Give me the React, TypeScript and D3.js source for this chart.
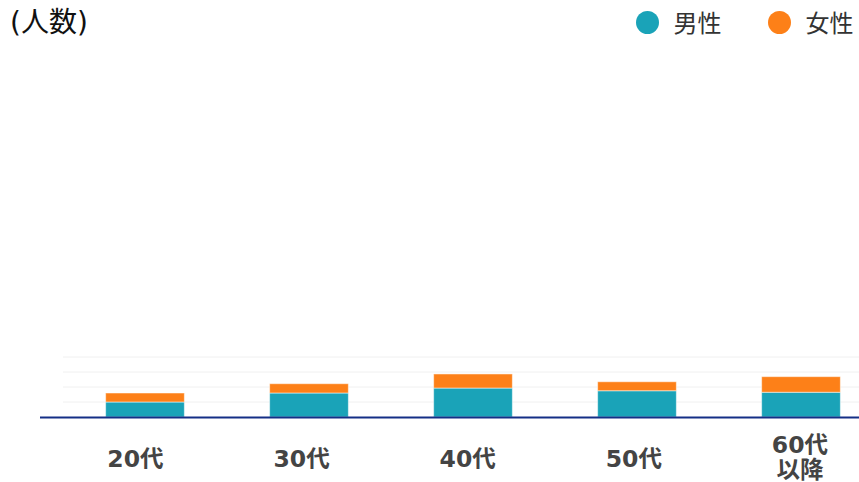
import { useEffect, useRef } from "react";
import { select, scaleBand, scaleLinear, stack } from "d3";

const categories = ["20代", "30代", "40代", "50代", "60代\n以降"];
const male = [10, 16, 19.3, 17.5, 16.5];
const female = [6, 6.2, 9.4, 6, 10.4];
const gridTicks = [10, 20, 30, 40];
const seriesNames = ["男性", "女性"];
const colors = ["#1aa3b8", "#fd8018"];

const W = 859;
const H = 482;
const FONT = "'DejaVu Sans', 'Noto Sans CJK JP', sans-serif";

const App: React.FC = () => {
  const svgRef = useRef<SVGSVGElement>(null);

  useEffect(() => {
    const svg = select(svgRef.current);
    svg.selectAll("*").remove();

    const x = scaleBand<string>()
      .domain(categories)
      .range([63, 883])
      .paddingInner(0.52)
      .paddingOuter(0.26);

    // labels sit on a slightly wider band than the bars
    const xLabel = scaleBand<string>().domain(categories).range([52.4, 883]);

    // 15px per 10 people
    const y = scaleLinear().domain([0, 40]).range([417, 357]);

    // gridlines
    svg
      .append("g")
      .selectAll("line")
      .data(gridTicks)
      .join("line")
      .attr("x1", 63)
      .attr("x2", W)
      .attr("y1", (d) => y(d))
      .attr("y2", (d) => y(d))
      .attr("stroke", "#f0f0f0")
      .attr("stroke-width", 1);

    const rows = categories.map((c, i) => ({ cat: c, m: male[i], f: female[i] }));
    const stacked = stack<any>().keys(["m", "f"])(rows);

    svg
      .append("g")
      .selectAll("g")
      .data(stacked)
      .join("g")
      .attr("fill", (_d, i) => colors[i])
      .selectAll("rect")
      .data((d) => d)
      .join("rect")
      .attr("x", (d: any) => x(d.data.cat)!)
      .attr("width", x.bandwidth())
      .attr("y", (d) => y(d[1]))
      .attr("height", (d) => y(d[0]) - y(d[1]))
      .attr("stroke", "rgba(255,255,255,0.5)")
      .attr("stroke-width", 1);

    // baseline
    svg
      .append("line")
      .attr("x1", 40)
      .attr("x2", W)
      .attr("y1", 417.5)
      .attr("y2", 417.5)
      .attr("stroke", "#142f86")
      .attr("stroke-width", 2);

    // category labels
    const labels = svg
      .append("g")
      .selectAll("text")
      .data(categories)
      .join("text")
      .attr("text-anchor", "middle")
      .attr("font-family", FONT)
      .attr("font-weight", "bold")
      .attr("font-size", 23.5)
      .attr("fill", "#444");
    labels.each(function (d) {
      const parts = d.split("\n");
      const t = select(this);
      const y0 = parts.length > 1 ? 453 : 467;
      parts.forEach((p, i) => {
        t.append("tspan")
          .attr("x", xLabel(d)! + xLabel.bandwidth() / 2)
          .attr("y", y0 + i * 25)
          .text(p);
      });
    });

    // title
    svg
      .append("text")
      .attr("x", 10)
      .attr("y", 32)
      .attr("font-family", FONT)
      .attr("font-size", 28)
      .attr("fill", "#111")
      .text("(人数)");

    // legend
    const legendX = [647.5, 779.5];
    const lg = svg
      .append("g")
      .selectAll("g")
      .data(seriesNames)
      .join("g")
      .attr("transform", (_d, i) => `translate(${legendX[i]},22.5)`);
    lg.append("circle").attr("r", 11.5).attr("fill", (_d, i) => colors[i]);
    lg.append("text")
      .attr("x", 26)
      .attr("y", 9)
      .attr("font-family", FONT)
      .attr("font-size", 24)
      .attr("fill", "#333")
      .text((d) => d);
  }, []);

  return (
    <svg
      ref={svgRef}
      width={W}
      height={H}
      style={{ position: "absolute", left: 0, top: 0, background: "#fff" }}
    />
  );
};

export default App;
